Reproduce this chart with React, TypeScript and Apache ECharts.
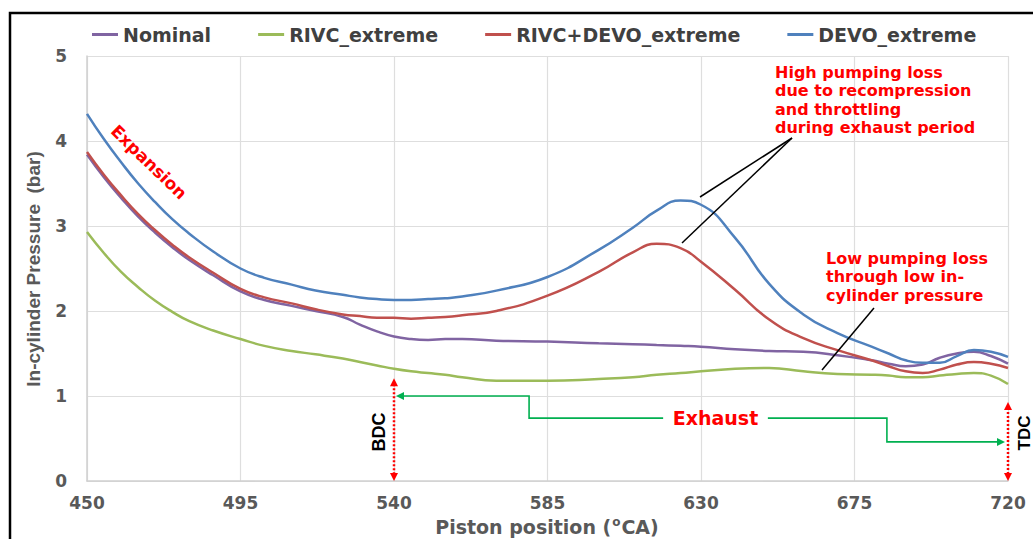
import React, { useEffect, useRef } from "react";
import * as echarts from "echarts";

const angles = [450, 455, 460, 465, 470, 475, 480, 487, 495, 502, 510, 517, 525, 530, 535, 540, 545, 550, 555, 560, 570, 585, 600, 610, 617, 624, 630, 640, 650, 660, 670, 680, 685, 690, 695, 700, 705, 710, 715, 720];

const nominal = [3.84, 3.57, 3.33, 3.11, 2.92, 2.75, 2.6, 2.42, 2.23, 2.13, 2.06, 2.0, 1.93, 1.84, 1.76, 1.7, 1.67, 1.66, 1.67, 1.67, 1.65, 1.64, 1.62, 1.61, 1.6, 1.59, 1.58, 1.55, 1.53, 1.52, 1.48, 1.42, 1.38, 1.35, 1.37, 1.45, 1.5, 1.52, 1.47, 1.38];
const rivcExtreme = [2.93, 2.68, 2.46, 2.28, 2.12, 1.99, 1.88, 1.77, 1.67, 1.59, 1.53, 1.49, 1.44, 1.4, 1.36, 1.32, 1.29, 1.27, 1.25, 1.22, 1.18, 1.18, 1.2, 1.22, 1.25, 1.27, 1.29, 1.32, 1.33, 1.29, 1.26, 1.25, 1.24, 1.22, 1.22, 1.24, 1.26, 1.27, 1.24, 1.14];
const rivcDevoExtreme = [3.87, 3.6, 3.36, 3.14, 2.95, 2.78, 2.63, 2.45, 2.26, 2.16, 2.09, 2.02, 1.96, 1.94, 1.92, 1.92, 1.91, 1.92, 1.93, 1.95, 2.0, 2.18, 2.46, 2.69, 2.79, 2.74, 2.58, 2.25, 1.9, 1.68, 1.54, 1.42, 1.35, 1.29, 1.27, 1.31, 1.37, 1.4, 1.38, 1.33];
const devoExtreme = [4.32, 4.02, 3.75, 3.5, 3.28, 3.08, 2.91, 2.7, 2.5, 2.39, 2.31, 2.24, 2.19, 2.16, 2.14, 2.13, 2.13, 2.14, 2.15, 2.17, 2.24, 2.4, 2.72, 2.98, 3.18, 3.3, 3.25, 2.86, 2.32, 1.96, 1.74, 1.58, 1.5, 1.42, 1.39, 1.39, 1.47, 1.54, 1.52, 1.46];

const seriesNames = ["Nominal", "RIVC_extreme", "RIVC+DEVO_extreme", "DEVO_extreme"];
const seriesColors = ["#8064A2", "#9BBB59", "#C0504D", "#4F81BD"];
const seriesValues = [nominal, rivcExtreme, rivcDevoExtreme, devoExtreme];

const xTicks = { min: 450, max: 720, interval: 45 };
const yTicks = { min: 0, max: 5, interval: 1 };

const BDC_ANGLE = 540;
const TDC_ANGLE = 720;

const WIDE = "'DejaVu Sans', sans-serif";
const ARIAL = "Arial, 'Liberation Sans', sans-serif";

export default function App() {
  const ref = useRef<HTMLDivElement>(null);
  useEffect(() => {
    document.body.style.margin = "0";
    const chart = echarts.init(ref.current!, null, { renderer: "svg" });
    const labelStyle = { color: "#595959", fontWeight: "bold" as const, fontSize: 17, fontFamily: WIDE };
    chart.setOption({
      animation: false,
      backgroundColor: "#ffffff",
      grid: { left: 87, right: 25, top: 56, bottom: 58, containLabel: false, outerBoundsMode: "none" },
      legend: {
        left: 87,
        top: 20,
        icon: "rect",
        itemWidth: 26,
        itemHeight: 3,
        itemGap: 47,
        textStyle: { color: "#404040", fontWeight: "bold", fontSize: 19, fontFamily: WIDE },
        data: seriesNames,
      },
      xAxis: {
        type: "value",
        min: xTicks.min,
        max: xTicks.max,
        interval: xTicks.interval,
        axisLine: { show: true, lineStyle: { color: "#d0d0d0", width: 1.5 } },
        axisTick: { show: false },
        axisLabel: { ...labelStyle, margin: 13 },
        splitLine: { show: true, lineStyle: { color: "#dedede", width: 1.2 } },
      },
      yAxis: {
        type: "value",
        min: yTicks.min,
        max: yTicks.max,
        interval: yTicks.interval,
        axisLine: { show: true, lineStyle: { color: "#d0d0d0", width: 1.5 } },
        axisTick: { show: false },
        axisLabel: { ...labelStyle, margin: 20 },
        splitLine: { show: true, lineStyle: { color: "#dedede", width: 1.2 } },
      },
      series: seriesNames.map((name, i) => ({
        name,
        type: "line",
        smooth: 0.5,
        symbol: "none",
        color: seriesColors[i],
        lineStyle: { width: 2.5, color: seriesColors[i] },
        data: angles.map((a, j) => [a, seriesValues[i][j]]),
      })),
    });

    const px = (x: number, y: number) => chart.convertToPixel({ gridIndex: 0 }, [x, y]) as number[];
    const red = "#ff0000";
    const green = "#00b050";

    const dottedArrow = (angle: number, topVal: number) => {
      const top = px(angle, topVal);
      const bot = px(angle, 0);
      const x = top[0];
      return [
        { type: "line", shape: { x1: x, y1: top[1] + 6, x2: x, y2: bot[1] - 6 }, style: { stroke: red, lineWidth: 2.5, lineDash: [2, 2] }, z: 100 },
        { type: "polygon", shape: { points: [[x, top[1]], [x - 4, top[1] + 8], [x + 4, top[1] + 8]] }, style: { fill: red }, z: 100 },
        { type: "polygon", shape: { points: [[x, bot[1]], [x - 4, bot[1] - 8], [x + 4, bot[1] - 8]] }, style: { fill: red }, z: 100 },
      ];
    };

    const bdcTop = px(BDC_ANGLE, 1.21);
    const tdcTop = px(TDC_ANGLE, 0.93);
    const exL = px(BDC_ANGLE, 1.0);
    const exStep1 = px(579.6, 0.74);
    const exTextL = px(618.9, 0.74);
    const exTextR = px(649.6, 0.74);
    const exStep2 = px(684.5, 0.46);
    const exR = px(TDC_ANGLE, 0.46);

    const txt = (x: number, y: number, text: string, font: string, fill: string, align: string, vAlign: string, rotation = 0, lineHeight?: number) => ({
      type: "text",
      x,
      y,
      rotation,
      z: 100,
      style: {
        text,
        x: 0,
        y: 0,
        fill,
        font,
        align,
        verticalAlign: vAlign,
        textAlign: align,
        textVerticalAlign: vAlign,
        lineHeight,
      },
    });

    chart.setOption({
      graphic: [
        { type: "rect", shape: { x: 10, y: 13, width: 1200, height: 700 }, style: { fill: "none", stroke: "#000", lineWidth: 2.5 }, z: 100 },
        ...dottedArrow(BDC_ANGLE, 1.21),
        ...dottedArrow(TDC_ANGLE, 0.93),
        txt(bdcTop[0] - 15, 432, "BDC", `bold 18px ${ARIAL}`, "#000", "center", "middle", Math.PI / 2),
        txt(tdcTop[0] + 16, 433, "TDC", `bold 17px ${ARIAL}`, "#000", "center", "middle", Math.PI / 2),
        {
          type: "polyline",
          z: 100,
          shape: { points: [[exL[0] + 8, exL[1]], [exStep1[0], exL[1]], [exStep1[0], exStep1[1]], [exTextL[0], exStep1[1]]] },
          style: { stroke: green, lineWidth: 1.6, fill: "none" },
        },
        {
          type: "polyline",
          z: 100,
          shape: { points: [[exTextR[0], exTextR[1]], [exStep2[0], exTextR[1]], [exStep2[0], exStep2[1]], [exR[0] - 10, exStep2[1]]] },
          style: { stroke: green, lineWidth: 1.6, fill: "none" },
        },
        { type: "polygon", z: 100, shape: { points: [[exL[0] + 2, exL[1]], [exL[0] + 10, exL[1] - 4], [exL[0] + 10, exL[1] + 4]] }, style: { fill: green } },
        { type: "polygon", z: 100, shape: { points: [[exR[0] - 3, exR[1]], [exR[0] - 11, exR[1] - 4], [exR[0] - 11, exR[1] + 4]] }, style: { fill: green } },
        txt((exTextL[0] + exTextR[0]) / 2, exTextL[1], "Exhaust", `bold 19px ${WIDE}`, red, "center", "middle"),
        txt(149, 162, "Expansion", `bold 17px ${WIDE}`, red, "center", "middle", -0.77),
        txt(775, 63, "High pumping loss\ndue to recompression\nand throttling\nduring exhaust period", `bold 16px ${WIDE}`, red, "left", "top", 0, 18.5),
        txt(826, 249, "Low pumping loss\nthrough low in-\ncylinder pressure", `bold 16px ${WIDE}`, red, "left", "top", 0, 18.5),
        { type: "line", z: 100, shape: { x1: 792, y1: 138, x2: 700, y2: 197 }, style: { stroke: "#000", lineWidth: 1.5 } },
        { type: "line", z: 100, shape: { x1: 792, y1: 138, x2: 682, y2: 243 }, style: { stroke: "#000", lineWidth: 1.5 } },
        { type: "line", z: 100, shape: { x1: 874, y1: 308, x2: 822, y2: 370 }, style: { stroke: "#000", lineWidth: 1.5 } },
        txt(33, 269, "In-cylinder Pressure  (bar)", `bold 19px ${ARIAL}`, "#595959", "center", "middle", Math.PI / 2),
        {
          type: "text",
          x: 547,
          y: 527,
          z: 100,
          style: {
            text: "{t|Piston position (}{s|o}{t|CA)}",
            x: 0,
            y: 0,
            align: "center",
            verticalAlign: "middle",
            textAlign: "center",
            textVerticalAlign: "middle",
            rich: {
              t: { fill: "#595959", fontSize: 19, fontWeight: "bold", fontFamily: WIDE, lineHeight: 22 },
              s: { fill: "#595959", fontSize: 12, fontWeight: "bold", fontFamily: WIDE, verticalAlign: "top", lineHeight: 22, padding: [0, 1, 8, 1] },
            },
          },
        },
      ],
    });
    return () => chart.dispose();
  }, []);
  return <div ref={ref} style={{ width: 1033, height: 539 }} />;
}
